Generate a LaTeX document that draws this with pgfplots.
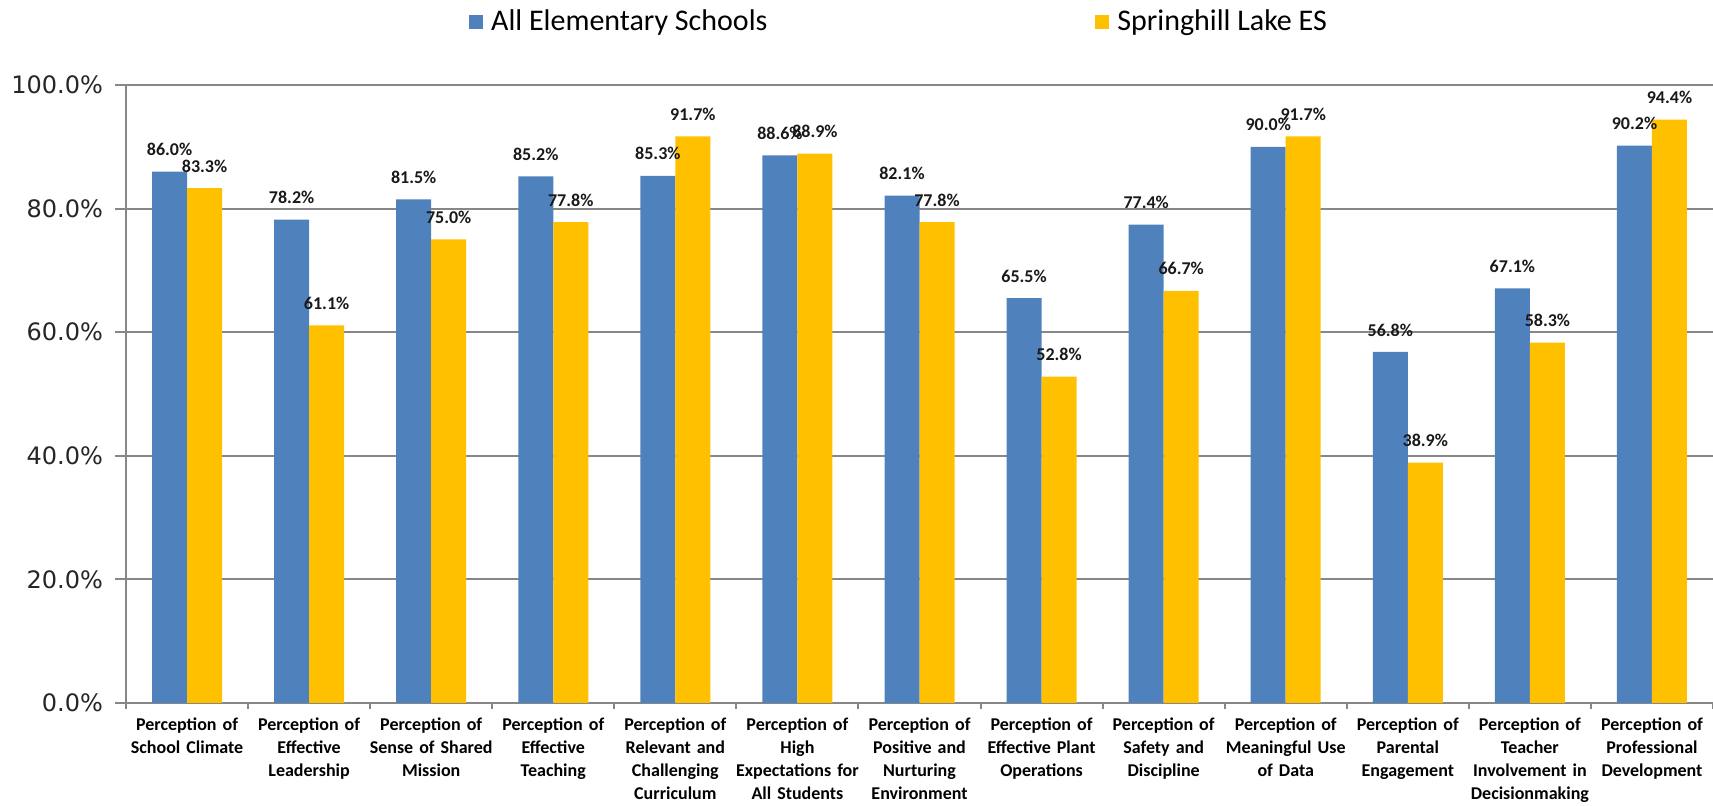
\documentclass[border=0pt]{standalone}
\usepackage{pgfplots}
\pgfplotsset{compat=1.18}
\usepackage{pgfplotstable}
\usepackage{fontspec}
\setmainfont{Carlito}
\newfontfamily\dejavu{DejaVu Sans}

\definecolor{allblue}{HTML}{4F81BD}
\definecolor{shyellow}{HTML}{FFC000}
\definecolor{gridgray}{HTML}{878787}

% percent of staff with a positive perception, by survey category
\pgfplotstableread{
idx all spring
0  86.0 83.3
1  78.2 61.1
2  81.5 75.0
3  85.2 77.8
4  85.3 91.7
5  88.6 88.9
6  82.1 77.8
7  65.5 52.8
8  77.4 66.7
9  90.0 91.7
10 56.8 38.9
11 67.1 58.3
12 90.2 94.4
}\surveydata

\begin{document}
\begin{tikzpicture}
\useasboundingbox (-63pt,-51.5pt) rectangle (793.5pt,351.5pt);
\begin{axis}[
  width=793.5pt, height=309pt, scale only axis,
  xmin=-0.5, xmax=12.5, ymin=0, ymax=100,
  ybar=0pt, bar width=17.5pt,
  axis x line*=bottom, axis y line*=left,
  axis line style={gridgray, line width=1pt, -},
  ymajorgrids, grid style={gridgray, line width=1pt},
  tick align=outside, major tick length=5.5pt,
  /pgf/number format/assume math mode=true,
  ytick={0,20,...,100},
  yticklabel={\pgfmathprintnumber[fixed,fixed zerofill,precision=1]{\tick}\%},
  yticklabel style={font=\dejavu\fontsize{12}{14}\selectfont, text=black!85, xshift=-2.5pt},
  ytick style={gridgray, line width=1pt},
  xtick={0,...,12},
  xtick style={draw=none},
  xticklabels={
    {Perception of\\School Climate},
    {Perception of\\Effective\\Leadership},
    {Perception of\\Sense of Shared\\Mission},
    {Perception of\\Effective\\Teaching},
    {Perception of\\Relevant and\\Challenging\\Curriculum},
    {Perception of\\High\\Expectations for\\All Students},
    {Perception of\\Positive and\\Nurturing\\Environment},
    {Perception of\\Effective Plant\\Operations},
    {Perception of\\Safety and\\Discipline},
    {Perception of\\Meaningful Use\\of Data},
    {Perception of\\Parental\\Engagement},
    {Perception of\\Teacher\\Involvement in\\Decisionmaking},
    {Perception of\\Professional\\Development}},
  xticklabel style={font=\bfseries\fontsize{9}{11.5}\selectfont, text width=62pt, align=center, yshift=1.5pt},
  extra x ticks={-0.5,0.5,...,12.5},
  extra x tick labels={},
  extra x tick style={major tick length=3pt, xtick style={draw=gridgray, line width=1pt}},
  nodes near coords={\pgfmathprintnumber[fixed,fixed zerofill,precision=1]{\pgfplotspointmeta}\%},
  every node near coord/.append style={font=\bfseries\fontsize{9}{11}\selectfont, text=black!90, anchor=center, yshift=11pt},
  legend columns=2,
  legend cell align=left,
  legend image code/.code={\draw[#1, draw=none] (0pt,-3.5pt) rectangle (7pt,3.5pt);},
  legend style={draw=none, fill=none, inner sep=0pt, at={(0.216,1.102)}, anchor=west,
    font=\fontsize{15}{18}\selectfont,
    nodes={inner xsep=4pt},
    /tikz/every even column/.append style={column sep=160pt}},
]
\addplot[fill=allblue, draw=none] table[x=idx, y=all] {\surveydata};
\addlegendentry{All Elementary Schools}
\addplot[fill=shyellow, draw=none] table[x=idx, y=spring] {\surveydata};
\addlegendentry{Springhill Lake ES}
\end{axis}
\end{tikzpicture}
\end{document}
